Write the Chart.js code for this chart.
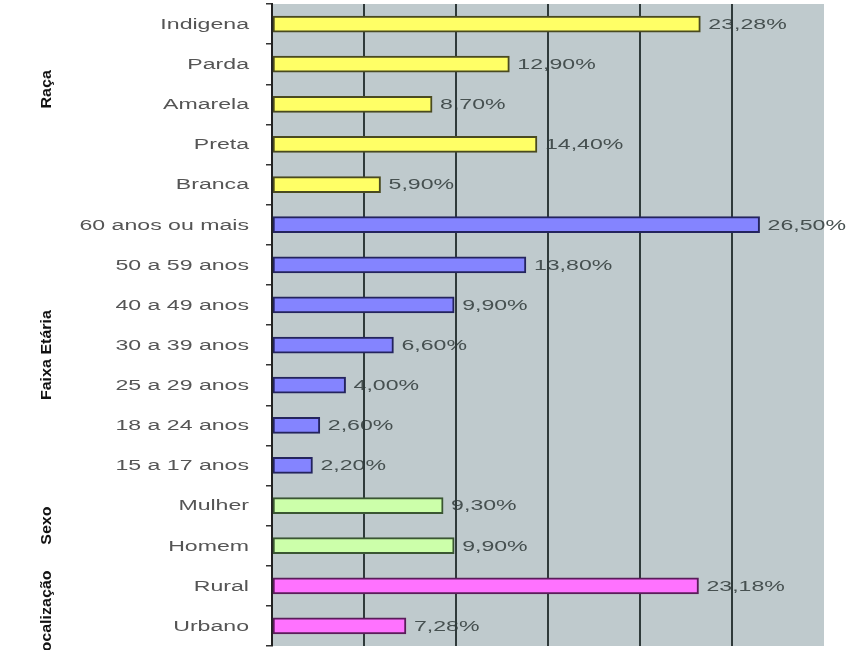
<!DOCTYPE html>
<html>
<head>
<meta charset="utf-8">
<script src="https://cdn.jsdelivr.net/npm/chart.js@4.4.1/dist/chart.umd.min.js"></script>
<style>
  html, body { margin: 0; padding: 0; background: #ffffff; }
  #wrap { width: 846px; height: 650px; position: relative; }
</style>
</head>
<body>
<div id="wrap"><canvas id="c"></canvas></div>
<script>
// Categories, top to bottom
const categories = [
  'Indigena', 'Parda', 'Amarela', 'Preta', 'Branca',
  '60 anos ou mais', '50 a 59 anos', '40 a 49 anos', '30 a 39 anos',
  '25 a 29 anos', '18 a 24 anos', '15 a 17 anos',
  'Mulher', 'Homem',
  'Rural', 'Urbano'
];
// Percentages per category
const values = [
  23.28, 12.90, 8.70, 14.40, 5.90,
  26.50, 13.80, 9.90, 6.60, 4.00, 2.60, 2.20,
  9.30, 9.90,
  23.18, 7.28
];
// Category groups (in order) and how many categories each holds
const groupNames = ['Raça', 'Faixa Etária', 'Sexo', 'Localização'];
const groupSizes = [5, 7, 2, 2];
// Value axis ticks (percent)
const xTicks = [0, 5, 10, 15, 20, 25, 30];

// ---- styling ----
const groupFill   = ['#ffff66', '#8484ff', '#ccffaa', '#ff72ff'];
const groupBorder = ['#4a4a20', '#24245e', '#3a5632', '#5a1c5a'];
const groupLabelShift = [-15, 10, 0, 10]; // px nudge of each rotated group title
const STRETCH = 1.65;                     // horizontal stretch of label text
const TEXT_FONT = '14px "Liberation Sans", Arial, sans-serif';

const groupOf = [];
groupSizes.forEach((n, g) => { for (let i = 0; i < n; i++) groupOf.push(g); });
const fills   = groupOf.map(g => groupFill[g]);
const borders = groupOf.map(g => groupBorder[g]);

function fmt(v) { return v.toFixed(2).replace('.', ',') + '%'; }

function drawStretched(ctx, text, x, y, sx, align) {
  const w = ctx.measureText(text).width * sx;
  const left = align === 'right' ? x - w : x;
  ctx.save();
  ctx.translate(left, y);
  ctx.scale(sx, 1);
  ctx.textAlign = 'left';
  ctx.fillText(text, 0, 0);
  ctx.restore();
}

// Plot background plus value labels (grid lines are painted over the labels)
const backdrop = {
  id: 'backdrop',
  beforeDraw(chart) {
    const { ctx, chartArea: a } = chart;
    ctx.save();
    ctx.fillStyle = '#bfcacd';
    ctx.fillRect(a.left, a.top, a.right - a.left, a.bottom - a.top);

    const meta = chart.getDatasetMeta(0);
    ctx.font = TEXT_FONT;
    ctx.fillStyle = '#465050';
    ctx.textBaseline = 'middle';
    meta.data.forEach((bar, i) => {
      drawStretched(ctx, fmt(values[i]), bar.x + 8, bar.y + 1, STRETCH, 'left');
    });
    ctx.restore();
  }
};

// Category names and rotated group titles on the left
const sideLabels = {
  id: 'sideLabels',
  afterDraw(chart) {
    const { ctx } = chart;
    const y = chart.scales.y;
    ctx.save();
    ctx.font = TEXT_FONT;
    ctx.fillStyle = '#555555';
    ctx.textBaseline = 'middle';
    categories.forEach((c, i) => {
      drawStretched(ctx, c, 249, y.getPixelForValue(i) + 1, STRETCH, 'right');
    });

    ctx.font = 'bold 15px "Liberation Sans", Arial, sans-serif';
    ctx.fillStyle = '#111111';
    ctx.textAlign = 'center';
    let start = 0;
    groupNames.forEach((name, g) => {
      const end = start + groupSizes[g] - 1;
      const cy = (y.getPixelForValue(start) + y.getPixelForValue(end)) / 2 + groupLabelShift[g];
      ctx.save();
      ctx.translate(47, cy);
      ctx.rotate(-Math.PI / 2);
      ctx.scale(1.07, 1);
      ctx.fillText(name, 0, 0);
      ctx.restore();
      start = end + 1;
    });
    ctx.restore();
  }
};

new Chart(document.getElementById('c'), {
  type: 'bar',
  data: {
    labels: categories,
    datasets: [{
      data: values,
      backgroundColor: fills,
      borderColor: borders,
      borderWidth: 2,
      borderSkipped: false,
      barThickness: 16
    }]
  },
  plugins: [backdrop, sideLabels],
  options: {
    indexAxis: 'y',
    responsive: true,
    maintainAspectRatio: false,
    animation: false,
    layout: { padding: { left: 0, right: 22, top: 4, bottom: 4 } },
    plugins: {
      legend: { display: false },
      tooltip: { enabled: false },
      title: { display: false }
    },
    scales: {
      x: {
        min: xTicks[0],
        max: xTicks[xTicks.length - 1],
        afterBuildTicks(scale) { scale.ticks = xTicks.map(v => ({ value: v })); },
        ticks: { display: false },
        border: { display: false },
        grid: {
          drawTicks: false,
          lineWidth: 2,
          color: (c) => (c.tick && (c.tick.value === xTicks[0] || c.tick.value === xTicks[xTicks.length - 1]))
            ? 'rgba(0,0,0,0)' : '#2f3a3a'
        },
        afterFit(scale) { scale.height = 0; }
      },
      y: {
        ticks: { display: false },
        border: { display: true, color: '#222222', width: 2 },
        grid: {
          drawOnChartArea: false,
          drawTicks: true,
          tickLength: 6,
          color: '#333333',
          lineWidth: 1.5
        },
        afterFit(scale) { scale.width = 272; }
      }
    }
  }
});
</script>
</body>
</html>
